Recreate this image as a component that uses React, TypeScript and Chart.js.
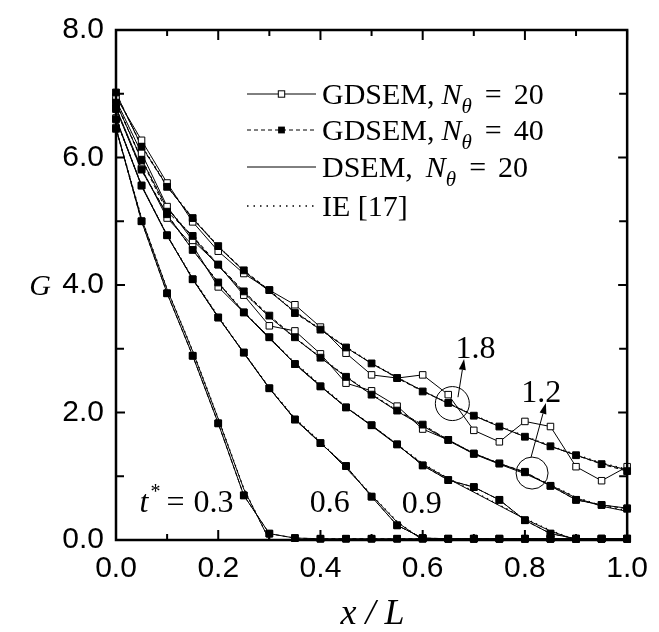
import React, { useEffect, useRef } from "react";
import { Chart, registerables } from "chart.js";
Chart.register(...registerables);

// ---------- data ----------
const X = [0, 0.05, 0.1, 0.15, 0.2, 0.25, 0.3, 0.35, 0.4, 0.45, 0.5, 0.55, 0.6, 0.65, 0.7, 0.75, 0.8, 0.85, 0.9, 0.95, 1.0];

// t* = 1.8
const t18_gd20 = [6.95, 6.27, 5.6, 4.99, 4.53, 4.18, 3.92, 3.69, 3.34, 2.93, 2.59, 2.54, 2.59, 2.28, 1.72, 1.54, 1.86, 1.78, 1.15, 0.93, 1.15];
const t18_gd40 = [7.02, 6.17, 5.54, 5.05, 4.61, 4.23, 3.92, 3.56, 3.3, 3.02, 2.77, 2.54, 2.33, 2.15, 1.95, 1.78, 1.62, 1.47, 1.33, 1.19, 1.08];
const t18_dsem = [7.0, 6.18, 5.55, 5.04, 4.6, 4.22, 3.9, 3.58, 3.3, 3.02, 2.77, 2.55, 2.34, 2.14, 1.95, 1.78, 1.62, 1.47, 1.33, 1.2, 1.1];
const t18_ie = [7.0, 6.19, 5.56, 5.05, 4.61, 4.22, 3.91, 3.58, 3.31, 3.03, 2.78, 2.55, 2.34, 2.15, 1.96, 1.79, 1.63, 1.48, 1.34, 1.21, 1.11];

// t* = 1.2
const t12_gd20 = [6.9, 6.07, 5.23, 4.7, 4.32, 3.84, 3.36, 3.28, 2.92, 2.46, 2.34, 2.1, 1.74, 1.57, 1.36, 1.2, 1.06, 0.85, 0.63, 0.55, 0.5];
const t12_gd40 = [6.86, 5.96, 5.15, 4.77, 4.32, 3.9, 3.52, 3.18, 2.86, 2.56, 2.28, 2.03, 1.81, 1.57, 1.35, 1.2, 1.07, 0.85, 0.63, 0.55, 0.49];
const t12_dsem = [6.86, 5.97, 5.2, 4.75, 4.3, 3.88, 3.5, 3.17, 2.86, 2.56, 2.28, 2.02, 1.79, 1.56, 1.35, 1.19, 1.04, 0.86, 0.66, 0.53, 0.45];
const t12_ie = [6.87, 5.98, 5.21, 4.75, 4.31, 3.88, 3.51, 3.17, 2.87, 2.57, 2.29, 2.03, 1.8, 1.57, 1.36, 1.2, 1.05, 0.87, 0.67, 0.54, 0.46];

// t* = 0.9
const t09_gd20 = [6.78, 5.83, 5.05, 4.62, 3.97, 3.57, 3.18, 2.76, 2.41, 2.08, 1.8, 1.5, 1.17, 0.94, 0.83, 0.63, 0.31, 0.1, 0.02, 0.02, 0.02];
const t09_gd40 = [6.76, 5.81, 5.11, 4.55, 4.04, 3.57, 3.18, 2.76, 2.41, 2.08, 1.8, 1.5, 1.17, 0.94, 0.83, 0.63, 0.31, 0.1, 0.02, 0.02, 0.02];
const t09_dsem = [6.76, 5.8, 5.1, 4.55, 4.03, 3.57, 3.16, 2.77, 2.42, 2.08, 1.79, 1.49, 1.19, 0.96, 0.75, 0.54, 0.33, 0.14, 0.0, 0.0, 0.0];
const t09_ie = [6.77, 5.8, 5.1, 4.56, 4.04, 3.58, 3.17, 2.78, 2.43, 2.09, 1.8, 1.5, 1.2, 0.97, 0.76, 0.55, 0.34, 0.15, 0.0, 0.0, 0.0];

// t* = 0.6
const t06_gd20 = [6.62, 5.56, 4.78, 4.09, 3.49, 2.94, 2.38, 1.89, 1.52, 1.16, 0.68, 0.23, 0.03, 0.02, 0.02, 0.02, 0.02, 0.02, 0.02, 0.02, 0.02];
const t06_gd40 = [6.6, 5.56, 4.78, 4.09, 3.49, 2.94, 2.38, 1.89, 1.52, 1.16, 0.68, 0.23, 0.03, 0.02, 0.02, 0.02, 0.02, 0.02, 0.02, 0.02, 0.02];
const t06_dsem = [6.6, 5.55, 4.77, 4.1, 3.5, 2.93, 2.38, 1.9, 1.53, 1.13, 0.7, 0.28, 0.0, 0.0, 0.0, 0.0, 0.0, 0.0, 0.0, 0.0, 0.0];
const t06_ie = [6.61, 5.56, 4.78, 4.11, 3.51, 2.94, 2.39, 1.91, 1.54, 1.14, 0.71, 0.29, 0.0, 0.0, 0.0, 0.0, 0.0, 0.0, 0.0, 0.0, 0.0];

// t* = 0.3
const t03_gd20 = [6.47, 5.0, 3.87, 2.89, 1.83, 0.7, 0.1, 0.03, 0.02, 0.02, 0.02, 0.02, 0.02, 0.02, 0.02, 0.02, 0.02, 0.02, 0.02, 0.02, 0.02];
const t03_gd40 = [6.45, 5.0, 3.87, 2.89, 1.83, 0.7, 0.1, 0.03, 0.02, 0.02, 0.02, 0.02, 0.02, 0.02, 0.02, 0.02, 0.02, 0.02, 0.02, 0.02, 0.02];
const t03_dsem = [6.45, 5.04, 3.93, 2.96, 1.9, 0.8, 0.0, 0.0, 0.0, 0.0, 0.0, 0.0, 0.0, 0.0, 0.0, 0.0, 0.0, 0.0, 0.0, 0.0, 0.0];
const t03_ie = [6.46, 5.05, 3.94, 2.97, 1.91, 0.81, 0.0, 0.0, 0.0, 0.0, 0.0, 0.0, 0.0, 0.0, 0.0, 0.0, 0.0, 0.0, 0.0, 0.0, 0.0];

const X_LABEL_TICKS = [0, 0.2, 0.4, 0.6, 0.8, 1.0];
const X_ALL_TICKS = [0, 0.1, 0.2, 0.3, 0.4, 0.5, 0.6, 0.7, 0.8, 0.9, 1.0];
const Y_LABEL_TICKS = [0, 2, 4, 6, 8];
const Y_ALL_TICKS = [0, 1, 2, 3, 4, 5, 6, 7, 8];

const LEGEND_LABELS = ["GDSEM,", "GDSEM,", "DSEM,", "IE [17]"];
const LEGEND_N = ["20", "40", "20"];

// annotations (data coordinates)
const CURVE_LABELS = [
  { text: "0.6", x: 0.379, y: 0.44 },
  { text: "0.9", x: 0.559, y: 0.42 },
  { text: "1.8", x: 0.664, y: 2.86 },
  { text: "1.2", x: 0.793, y: 2.16 },
];
const T_LABEL = { x: 0.046, y: 0.44, value: "0.3" };
const CIRCLES = [
  { x: 0.658, y: 2.14, r: 17 },
  { x: 0.814, y: 1.05, r: 16 },
];
const ARROWS = [
  { x0: 0.669, y0: 2.24, x1: 0.681, y1: 2.84 },
  { x0: 0.812, y0: 1.3, x1: 0.841, y1: 2.15 },
];

const SERIF = '"Liberation Serif", "Times New Roman", serif';
const SANS = '"Liberation Sans", Arial, sans-serif';

const groups = [
  [t18_gd20, t18_gd40, t18_dsem, t18_ie],
  [t12_gd20, t12_gd40, t12_dsem, t12_ie],
  [t09_gd20, t09_gd40, t09_dsem, t09_ie],
  [t06_gd20, t06_gd40, t06_dsem, t06_ie],
  [t03_gd20, t03_gd40, t03_dsem, t03_ie],
];

const pts = (arr: number[]) => X.map((x, i) => ({ x, y: arr[i] }));

function buildDatasets() {
  const ds: any[] = [];
  groups.forEach(([g20, g40, dsem, ie]) => {
    ds.push({
      data: pts(ie), borderColor: "#000", borderWidth: 1.2, borderDash: [1.5, 4],
      pointRadius: 0, order: 5, clip: false,
    });
    ds.push({
      data: pts(dsem), borderColor: "#000", borderWidth: 1, pointRadius: 0, order: 4, clip: false,
    });
    ds.push({
      data: pts(g40), borderColor: "#000", borderWidth: 1, borderDash: [4, 3], pointRadius: 0, order: 3, clip: false,
    });
    ds.push({
      data: pts(g20), borderColor: "#000", borderWidth: 1, pointStyle: "rect", pointRadius: 4.6,
      pointBackgroundColor: "#fff", pointBorderColor: "#000", pointBorderWidth: 1, order: 2, clip: false,
    });
    ds.push({
      data: pts(g40), showLine: false, pointStyle: "rect", pointRadius: 4.8,
      pointBackgroundColor: "#000", pointBorderColor: "#000", pointBorderWidth: 1, order: 1, clip: false,
    });
  });
  return ds;
}

type Seg = { t: string; f: string; dy?: number; gap?: number };
function drawRich(ctx: CanvasRenderingContext2D, x: number, y: number, segs: Seg[]) {
  let cx = x;
  segs.forEach((s) => {
    cx += s.gap || 0;
    ctx.font = s.f;
    ctx.fillText(s.t, cx, y + (s.dy || 0));
    cx += ctx.measureText(s.t).width;
  });
  return cx;
}

const decor = {
  id: "decor",
  afterDraw(chart: any) {
    const ctx: CanvasRenderingContext2D = chart.ctx;
    const { left, right, top, bottom } = chart.chartArea;
    const xs = chart.scales.x;
    const ys = chart.scales.y;
    ctx.save();
    ctx.strokeStyle = "#000";
    ctx.fillStyle = "#000";
    ctx.setLineDash([]);

    // ticks (inward)
    ctx.lineWidth = 2;
    X_ALL_TICKS.forEach((v) => {
      const px = xs.getPixelForValue(v);
      const major = X_LABEL_TICKS.some((m) => Math.abs(m - v) < 1e-9);
      const len = major ? 10 : 6;
      ctx.beginPath();
      ctx.moveTo(px, bottom);
      ctx.lineTo(px, bottom - len);
      ctx.moveTo(px, top);
      ctx.lineTo(px, top + len);
      ctx.stroke();
    });
    Y_ALL_TICKS.forEach((v) => {
      const py = ys.getPixelForValue(v);
      const major = Y_LABEL_TICKS.includes(v);
      const len = major ? 9 : 8;
      ctx.beginPath();
      ctx.moveTo(left, py);
      ctx.lineTo(left + len, py);
      ctx.moveTo(right, py);
      ctx.lineTo(right - len, py);
      ctx.stroke();
    });

    // frame
    ctx.lineWidth = 2.5;
    ctx.strokeRect(left, top, right - left, bottom - top);

    // axis titles
    ctx.textBaseline = "alphabetic";
    ctx.textAlign = "center";
    ctx.font = `italic 36px ${SERIF}`;
    ctx.fillText("x / L", (left + right) / 2 + 1, 624);
    ctx.font = `italic 30px ${SERIF}`;
    ctx.fillText("G", 40, 295);

    // legend
    ctx.textAlign = "left";
    const lx0 = left + 131;
    const lx1 = left + 200;
    const tx = left + 206;
    const rows = [top + 64, top + 100, top + 137, top + 176];
    const F = `30px ${SERIF}`;
    const FI = `italic 30px ${SERIF}`;
    const FS = `italic 21px ${SERIF}`;
    rows.forEach((ry, i) => {
      ctx.lineWidth = 1;
      if (i === 1) ctx.setLineDash([4, 3]);
      else if (i === 3) ctx.setLineDash([1.5, 5]);
      else ctx.setLineDash([]);
      if (i === 3) ctx.lineWidth = 1.5;
      ctx.beginPath();
      ctx.moveTo(lx0, ry);
      ctx.lineTo(lx1, ry);
      ctx.stroke();
      ctx.setLineDash([]);
      const mx = (lx0 + lx1) / 2;
      if (i === 0) {
        ctx.fillStyle = "#fff";
        ctx.fillRect(mx - 3.2, ry - 3.2, 6.4, 6.4);
        ctx.fillStyle = "#000";
        ctx.lineWidth = 1;
        ctx.strokeRect(mx - 3.2, ry - 3.2, 6.4, 6.4);
      } else if (i === 1) {
        ctx.fillRect(mx - 3.4, ry - 3.4, 6.8, 6.8);
      }
      const base = ry + 10;
      if (i < 3) {
        drawRich(ctx, tx, base, [
          { t: LEGEND_LABELS[i], f: F },
          { t: "N", f: FI, gap: i === 2 ? 13 : 7 },
          { t: "θ", f: FS, dy: 9 },
          { t: "=", f: F, gap: 13 },
          { t: LEGEND_N[i], f: F, gap: 12 },
        ]);
      } else {
        drawRich(ctx, tx, base, [{ t: LEGEND_LABELS[i], f: F }]);
      }
    });

    // curve labels
    ctx.font = `32px ${SERIF}`;
    CURVE_LABELS.forEach((l) => {
      ctx.fillText(l.text, xs.getPixelForValue(l.x), ys.getPixelForValue(l.y));
    });
    const tpx = xs.getPixelForValue(T_LABEL.x);
    const tpy = ys.getPixelForValue(T_LABEL.y);
    drawRich(ctx, tpx, tpy, [
      { t: "t", f: `italic 32px ${SERIF}` },
      { t: "*", f: `20px ${SERIF}`, dy: -14, gap: 2 },
      { t: "=", f: `32px ${SERIF}`, gap: 6 },
      { t: T_LABEL.value, f: `32px ${SERIF}`, gap: 9 },
    ]);

    // circles
    ctx.lineWidth = 1;
    CIRCLES.forEach((c) => {
      ctx.beginPath();
      ctx.arc(xs.getPixelForValue(c.x), ys.getPixelForValue(c.y), c.r, 0, Math.PI * 2);
      ctx.stroke();
    });
    // arrows
    ARROWS.forEach((a) => {
      const x0 = xs.getPixelForValue(a.x0), y0 = ys.getPixelForValue(a.y0);
      const x1 = xs.getPixelForValue(a.x1), y1 = ys.getPixelForValue(a.y1);
      const ang = Math.atan2(y1 - y0, x1 - x0);
      const hl = 11, hw = 3.5;
      const bx = x1 - hl * Math.cos(ang), by = y1 - hl * Math.sin(ang);
      ctx.beginPath();
      ctx.moveTo(x0, y0);
      ctx.lineTo(bx, by);
      ctx.stroke();
      ctx.beginPath();
      ctx.moveTo(x1, y1);
      ctx.lineTo(bx + hw * Math.sin(ang), by - hw * Math.cos(ang));
      ctx.lineTo(bx - hw * Math.sin(ang), by + hw * Math.cos(ang));
      ctx.closePath();
      ctx.fill();
    });
    ctx.restore();
  },
};

export default function App() {
  const ref = useRef<HTMLCanvasElement | null>(null);
  useEffect(() => {
    if (!ref.current) return;
    const chart = new Chart(ref.current, {
      type: "line",
      data: { datasets: buildDatasets() },
      options: {
        animation: false,
        responsive: false,
        devicePixelRatio: 1,
        layout: { padding: { top: 27, right: 26, left: 0, bottom: 0 } },
        plugins: { legend: { display: false }, tooltip: { enabled: false } },
        elements: { line: { tension: 0 } },
        scales: {
          x: {
            type: "linear",
            min: 0,
            max: 1,
            grid: { display: false, drawTicks: false },
            border: { display: false },
            afterBuildTicks: (s: any) => {
              s.ticks = X_LABEL_TICKS.map((v) => ({ value: v }));
            },
            afterFit: (s: any) => {
              s.height = 92;
            },
            ticks: {
              color: "#000",
              padding: 11,
              maxRotation: 0,
              font: { family: SANS, size: 30 },
              callback: (v: any) => Number(v).toFixed(1),
            },
          },
          y: {
            type: "linear",
            min: 0,
            max: 8,
            grid: { display: false, drawTicks: false },
            border: { display: false },
            afterBuildTicks: (s: any) => {
              s.ticks = Y_LABEL_TICKS.map((v) => ({ value: v }));
            },
            afterFit: (s: any) => {
              s.width = 116;
            },
            ticks: {
              color: "#000",
              padding: 12,
              font: { family: SANS, size: 30 },
              callback: (v: any) => Number(v).toFixed(1),
            },
          },
        },
      },
      plugins: [decor],
    } as any);
    return () => chart.destroy();
  }, []);
  return (
    <div style={{ position: "absolute", left: 0, top: 0, width: 659, height: 632, background: "#fff" }}>
      <canvas ref={ref} width={659} height={632} style={{ display: "block", width: 659, height: 632 }} />
    </div>
  );
}
